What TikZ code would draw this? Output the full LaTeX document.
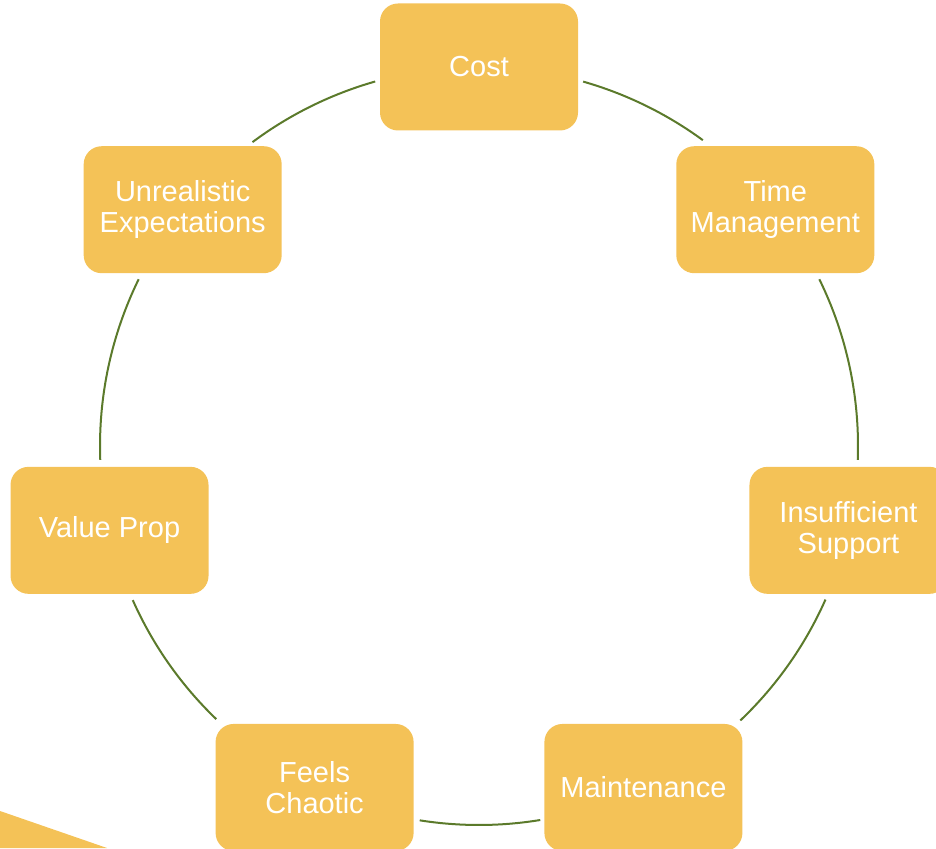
\documentclass[tikz,border=0pt]{standalone}
\usepackage{fontspec}
\setmainfont{Liberation Sans}
\definecolor{boxfill}{HTML}{F4C257}
\definecolor{ringcol}{HTML}{5B7A2B}
\begin{document}
\begin{tikzpicture}[x=1pt,y=1pt,
  item/.style={fill=boxfill, rounded corners=18pt, minimum width=198pt, minimum height=127pt,
    text=white, align=center, font=\fontsize{29}{31}\selectfont, inner sep=0pt},
  ringarc/.style={draw=ringcol, line width=2pt}]
\useasboundingbox (0,0) rectangle (936,848);
\clip (0,0) rectangle (936,848);
\coordinate (c) at (479,402);
% ring segments
\draw[ringarc] ([shift={(74.05:379pt)}]c) arc[start angle=74.05, end angle=53.8, radius=379pt];
\draw[ringarc] ([shift={(26.1:379pt)}]c) arc[start angle=26.1, end angle=-2.1, radius=379pt];
\draw[ringarc] ([shift={(-23.9:379pt)}]c) arc[start angle=-23.9, end angle=-46.4, radius=379pt];
\draw[ringarc] ([shift={(-80.7:379pt)}]c) arc[start angle=-80.7, end angle=-99, radius=379pt];
\draw[ringarc] ([shift={(-133.9:379pt)}]c) arc[start angle=-133.9, end angle=-156, radius=379pt];
\draw[ringarc] ([shift={(-177.9:379pt)}]c) arc[start angle=-177.9, end angle=-206.1, radius=379pt];
\draw[ringarc] ([shift={(-233.3:379pt)}]c) arc[start angle=-233.3, end angle=-254.1, radius=379pt];
% nodes
\node[item] (cost) at ([shift={(90:379pt)}]c) {Cost};
\node[item] (time) at ([shift={(38.57:379pt)}]c) {Time\\Management};
\node[item] (supp) at ([shift={(-12.86:379pt)}]c) {Insufficient\\Support};
\node[item] (maint) at ([shift={(-64.29:379pt)}]c) {Maintenance};
\node[item] (chaos) at ([shift={(-115.71:379pt)}]c) {Feels\\Chaotic};
\node[item] (value) at ([shift={(-167.14:379pt)}]c) {Value Prop};
\node[item] (unreal) at ([shift={(141.43:379pt)}]c) {Unrealistic\\Expectations};
% corner shape
\fill[boxfill] (0,37) -- (107,0) -- (0,0) -- cycle;
\end{tikzpicture}
\end{document}
